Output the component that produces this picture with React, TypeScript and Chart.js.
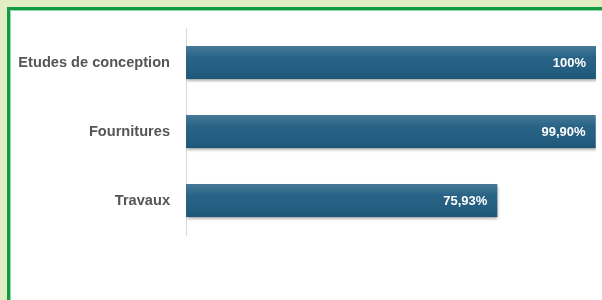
import React, { useEffect, useRef } from "react";
import { Chart, registerables } from "chart.js";

Chart.register(...registerables);

const categories = ["Etudes de conception", "Fournitures", "Travaux"];
const values = [100, 99.9, 75.93];
const valueLabels = ["100%", "99,90%", "75,93%"];

const barLook = {
  id: "barLook",
  beforeDatasetsDraw(chart: any) {
    const ctx = chart.ctx;
    ctx.save();
    ctx.shadowColor = "rgba(0,0,0,0.4)";
    ctx.shadowBlur = 3;
    ctx.shadowOffsetX = 1;
    ctx.shadowOffsetY = 2;
  },
  afterDatasetsDraw(chart: any) {
    const ctx = chart.ctx;
    ctx.restore();
    const meta = chart.getDatasetMeta(0);
    meta.data.forEach((bar: any, i: number) => {
      const top = bar.y - bar.height / 2;
      const bottom = bar.y + bar.height / 2;
      const g = ctx.createLinearGradient(0, top, 0, bottom);
      g.addColorStop(0, "rgba(255,255,255,0.18)");
      g.addColorStop(0.35, "rgba(255,255,255,0.04)");
      g.addColorStop(1, "rgba(0,0,0,0.07)");
      ctx.save();
      ctx.fillStyle = g;
      ctx.fillRect(bar.base, top, bar.x - bar.base, bar.height);
      ctx.fillStyle = "#ffffff";
      ctx.font = "bold 13px 'Liberation Sans', Arial, sans-serif";
      ctx.textAlign = "right";
      ctx.textBaseline = "middle";
      ctx.fillText(valueLabels[i], bar.x - 10, bar.y + 1);
      ctx.restore();
    });
  },
};

export default function App() {
  const ref = useRef<HTMLCanvasElement>(null);
  useEffect(() => {
    if (!ref.current) return;
    const chart = new Chart(ref.current, {
      type: "bar",
      data: {
        labels: categories,
        datasets: [
          {
            data: values,
            backgroundColor: "#1f5d81",
            borderWidth: 0,
            categoryPercentage: 1,
            barPercentage: 0.48,
          },
        ],
      },
      options: {
        indexAxis: "y",
        animation: false,
        responsive: false,
        layout: { padding: { top: 28, bottom: 65, right: 6, left: 0 } },
        plugins: { legend: { display: false }, tooltip: { enabled: false } },
        scales: {
          x: { display: false, min: 0, max: 100 },
          y: {
            afterFit(scale: any) {
              scale.width = 186;
            },
            grid: { display: false, drawTicks: false },
            border: { display: true, color: "#d9d9d9", width: 1 },
            ticks: {
              padding: 16,
              color: "#555555",
              font: { family: "'Liberation Sans', Arial, sans-serif", size: 14.6, weight: "bold" },
            },
          },
        },
      },
      plugins: [barLook],
    });
    return () => chart.destroy();
  }, []);
  return (
    <div style={{ position: "fixed", left: 0, top: 0, width: 602, height: 300, background: "#e2edc3", overflow: "hidden" }}>
      <div
        style={{
          position: "absolute",
          left: 7,
          top: 7,
          width: 700,
          height: 400,
          background: "#ffffff",
          borderLeft: "3px solid #139a45",
          borderTop: "3px solid #139a45",
          boxShadow: "inset 1px 1px 0 #8fdca5",
        }}
      />
      <canvas ref={ref} width={602} height={300} style={{ position: "absolute", left: 0, top: 0 }} />
    </div>
  );
}
